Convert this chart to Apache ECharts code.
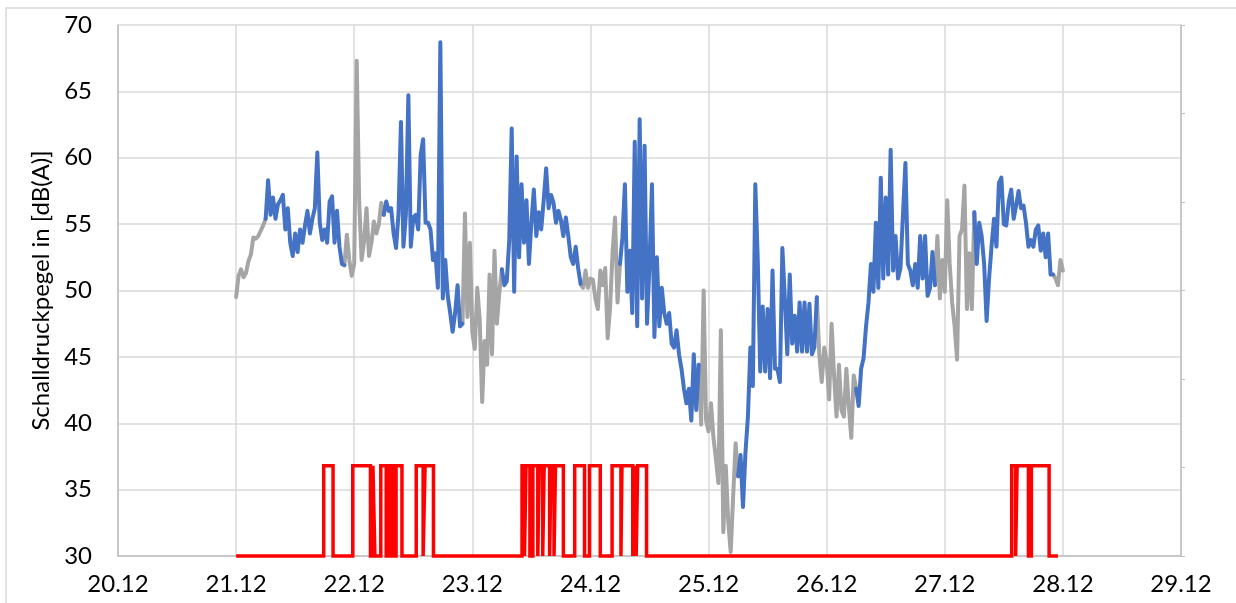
<!DOCTYPE html>
<html>
<head>
<meta charset="utf-8">
<script src="https://cdn.jsdelivr.net/npm/echarts@6/dist/echarts.min.js"></script>
<style>
  html, body { margin: 0; padding: 0; background: #fff; }
  #chart { width: 1236px; height: 603px; }
</style>
</head>
<body>
<div id="chart"></div>
<script>
// x tick labels (days of December)
const dayTicks = [20, 21, 22, 23, 24, 25, 26, 27, 28, 29];

// sound level in dB(A), one value every 30 minutes, 00:00 .. 23:30 of each day
const lvl21 = [49.5, 51.1, 51.6, 51.0, 51.3, 52.2, 52.7, 54.0, 53.9, 54.1, 54.5, 54.9,
  55.4, 58.3, 55.7, 57.0, 55.4, 56.5, 56.8, 57.2, 54.6, 56.2, 53.6, 52.6,
  54.3, 52.9, 54.6, 53.6, 54.9, 56.0, 54.3, 55.4, 56.2, 60.4, 55.1, 53.8,
  54.6, 53.6, 56.7, 57.1, 53.6, 56.0, 53.3, 52.0, 51.9, 54.2, 52.3, 51.1];
const lvl22 = [52.0, 67.3, 56.8, 52.3, 53.7, 56.2, 52.6, 53.6, 55.2, 54.3, 55.0, 56.6,
  55.7, 56.7, 56.0, 56.2, 54.3, 53.2, 55.8, 62.7, 53.3, 55.7, 64.7, 53.3,
  55.5, 55.7, 54.6, 60.2, 61.4, 55.1, 55.1, 54.6, 52.3, 52.8, 50.2, 68.7,
  49.4, 52.3, 49.6, 48.3, 46.9, 48.3, 50.4, 47.3, 47.5, 55.8, 48.0, 53.6];
const lvl23 = [46.8, 45.6, 50.2, 47.8, 41.6, 46.2, 44.4, 51.2, 45.2, 53.0, 47.5, 49.9,
  51.6, 50.4, 50.7, 53.8, 62.2, 49.9, 60.1, 52.5, 58.0, 53.6, 56.8, 52.0,
  55.1, 57.6, 54.1, 55.9, 54.6, 56.8, 59.2, 56.2, 57.2, 56.6, 55.1, 56.0,
  55.3, 54.1, 55.5, 54.1, 52.5, 52.0, 53.3, 51.7, 50.5, 50.2, 51.5, 50.2];
const lvl24 = [50.9, 50.8, 49.4, 48.6, 51.5, 50.4, 51.7, 46.4, 48.8, 52.9, 55.5, 49.1,
  52.0, 54.0, 58.0, 49.9, 53.0, 48.3, 61.2, 47.3, 62.9, 49.4, 60.9, 47.5,
  52.0, 58.0, 46.5, 52.5, 47.3, 50.2, 48.3, 47.5, 48.3, 46.0, 45.7, 47.0,
  45.2, 44.1, 42.6, 41.5, 42.6, 40.2, 45.2, 41.0, 44.4, 39.9, 50.0, 40.2];
const lvl25 = [39.4, 41.5, 38.9, 37.3, 35.5, 47.0, 31.8, 36.8, 32.6, 30.3, 34.5, 38.5,
  36.0, 37.6, 33.7, 37.8, 40.5, 45.7, 42.8, 58.0, 52.3, 43.9, 48.8, 43.9,
  48.6, 43.4, 51.5, 44.1, 44.1, 43.1, 53.2, 49.4, 45.2, 51.2, 46.0, 48.1,
  45.4, 49.1, 45.4, 49.1, 45.4, 49.0, 45.2, 45.7, 49.5, 45.2, 43.1, 45.7];
const lvl26 = [44.7, 41.8, 47.5, 43.6, 40.5, 44.4, 41.0, 40.5, 44.1, 41.3, 38.9, 43.6,
  42.6, 41.3, 44.1, 44.9, 47.3, 49.1, 52.0, 49.9, 55.1, 50.2, 58.5, 50.9,
  57.0, 51.2, 60.6, 51.5, 54.1, 50.9, 51.7, 55.7, 59.6, 52.0, 51.5, 50.4,
  52.0, 50.2, 54.1, 50.9, 54.1, 49.6, 50.2, 52.9, 50.4, 54.1, 49.4, 52.3];
const lvl27 = [49.9, 56.8, 52.0, 49.1, 47.3, 44.8, 54.1, 54.6, 57.9, 48.6, 52.8, 48.6,
  55.9, 52.0, 55.1, 54.1, 52.0, 47.7, 50.9, 53.3, 55.4, 53.3, 58.1, 58.5,
  55.0, 54.9, 56.7, 57.6, 55.4, 56.4, 57.5, 56.2, 56.4, 55.1, 53.3, 53.8,
  53.3, 54.6, 54.9, 53.0, 54.3, 52.5, 54.3, 51.2, 51.2, 50.9, 50.4, 52.3];
const lvlEnd = [51.5]; // 28.12 00:00

// red indicator: on-intervals in hours since 21.12 00:00
const redOn = [[17.8, 19.7], [23.7, 27.3], [27.8, 28.2], [29.4, 30.5], [31.2, 31.8], [32.5, 33.7],
  [36.6, 38.0], [38.4, 40.1],
  [58.1, 58.6], [58.9, 59.7], [60.3, 61.3], [61.6, 62.3], [62.6, 63.7], [64.0, 64.6],
  [64.9, 66.5], [68.8, 70.8], [71.8, 74.0], [76.4, 78.2], [78.4, 80.6], [80.9, 81.3], [81.6, 83.4],
  [157.6, 158.4], [158.7, 161.0], [161.6, 165.2]];
const redLevels = [30, 36.8];   // off / on
const redSpan = [0, 167];       // hours since 21.12 00:00

const levels = [].concat(lvl21, lvl22, lvl23, lvl24, lvl25, lvl26, lvl27, lvlEnd);
const dayData = [];
const nightData = [];
levels.forEach((v, i) => {
  const t = 21 + i / 48;
  const h = (i % 48) / 2;
  dayData.push([t, (h >= 6 && h <= 22) ? v : '-']);
  nightData.push([t, (h <= 6 || h >= 22) ? v : '-']);
});

const redData = [[21 + redSpan[0] / 24, redLevels[0]]];
redOn.forEach(([a, b]) => {
  redData.push([21 + a / 24, redLevels[0]], [21 + a / 24, redLevels[1]],
    [21 + b / 24, redLevels[1]], [21 + b / 24, redLevels[0]]);
});
redData.push([21 + redSpan[1] / 24, redLevels[0]]);

const chart = echarts.init(document.getElementById('chart'));
const font = 'Lato, "Liberation Sans", sans-serif';

chart.setOption({
  animation: false,
  textStyle: { fontFamily: font },
  graphic: [{
    type: 'rect',
    shape: { x: 6, y: 8, width: 1240, height: 610 },
    style: { fill: 'none', stroke: '#d9d9d9', lineWidth: 1.5 },
    silent: true
  }],
  grid: { left: 118, right: 55, top: 25, bottom: 47 },
  xAxis: {
    type: 'value',
    min: dayTicks[0],
    max: dayTicks[dayTicks.length - 1],
    interval: 1,
    axisLine: { show: true, lineStyle: { color: '#bfbfbf', width: 1.5 } },
    axisTick: { show: false },
    axisLabel: {
      fontSize: 24, color: '#000', margin: 16, fontFamily: font,
      formatter: v => v + '.12'
    },
    splitLine: { show: true, lineStyle: { color: '#d9d9d9', width: 1.5 } }
  },
  yAxis: [{
    type: 'value',
    min: 30, max: 70, interval: 5,
    name: 'Schalldruckpegel in [dB(A)]',
    nameLocation: 'middle',
    nameGap: 62,
    nameTextStyle: { fontSize: 24, color: '#000', fontFamily: font },
    axisLine: { show: true, lineStyle: { color: '#bfbfbf', width: 1.5 } },
    axisTick: { show: false },
    axisLabel: { fontSize: 24, color: '#000', margin: 26, fontFamily: font },
    splitLine: { show: true, lineStyle: { color: '#d9d9d9', width: 1.5 } }
  }, {
    type: 'value',
    position: 'right',
    min: 0, max: 6, interval: 1,
    axisLine: { show: true, lineStyle: { color: '#bfbfbf', width: 1.5 } },
    axisTick: { show: true, length: 4, lineStyle: { color: '#bfbfbf' } },
    axisLabel: { show: false },
    splitLine: { show: false }
  }],
  series: [
    {
      name: 'night', type: 'line', data: nightData, showSymbol: false,
      connectNulls: false,
      lineStyle: { color: '#a5a5a5', width: 4, join: 'round', cap: 'round' }
    },
    {
      name: 'day', type: 'line', data: dayData, showSymbol: false,
      connectNulls: false,
      lineStyle: { color: '#4472c4', width: 4, join: 'round', cap: 'round' }
    },
    {
      name: 'indicator', type: 'line', data: redData, showSymbol: false,
      clip: false,
      lineStyle: { color: '#ff0000', width: 3.5, join: 'miter' }
    }
  ]
});
</script>
</body>
</html>
